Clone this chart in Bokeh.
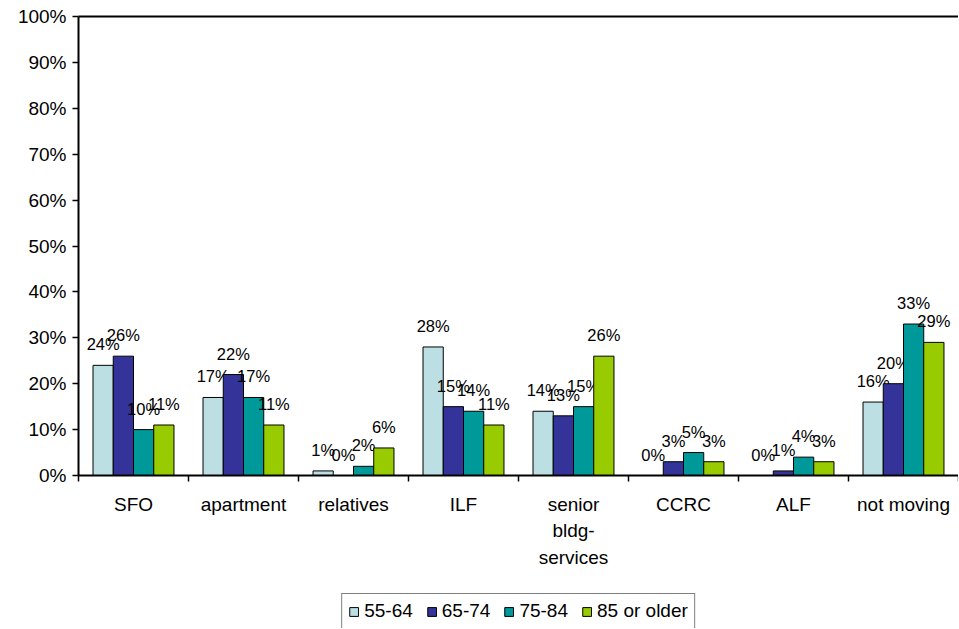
from bokeh.plotting import figure
from bokeh.layouts import column
from bokeh.models import (ColumnDataSource, Range1d, FixedTicker, LinearAxis,
                          PrintfTickFormatter, Legend, LegendItem)
from bokeh.core.properties import value
from bokeh.embed import file_html
from bokeh.resources import INLINE

categories = ["SFO", "apartment", "relatives", "ILF", "senior\nbldg-\nservices",
              "CCRC", "ALF", "not moving"]
series_names = ["55-64", "65-74", "75-84", "85 or older"]
s_55_64 = [24, 17, 1, 28, 14, 0, 0, 16]
s_65_74 = [26, 22, 0, 15, 13, 3, 1, 20]
s_75_84 = [10, 17, 2, 14, 15, 5, 4, 33]
s_85_up = [11, 11, 6, 11, 26, 3, 3, 29]
series_values = [s_55_64, s_65_74, s_75_84, s_85_up]
colors = ["#BBDFE3", "#333399", "#009999", "#99CC00"]
y_ticks = [0, 10, 20, 30, 40, 50, 60, 70, 80, 90, 100]

FONT = "Liberation Sans"
n = len(categories)
bar_w = 0.184

p = figure(width=958, height=593, output_backend="svg", toolbar_location=None,
           x_range=Range1d(0, n), y_range=Range1d(0, 100),
           min_border_left=78, min_border_top=16, min_border_right=0,
           min_border_bottom=118)
p.xgrid.visible = False
p.ygrid.visible = False
p.outline_line_color = None
p.background_fill_color = "white"
p.border_fill_color = "white"

# legend strip below the chart (its bars sit far outside its visible range)
lf = figure(width=958, height=35, output_backend="svg", toolbar_location=None,
            x_range=Range1d(0, n), y_range=Range1d(5000, 5001),
            min_border_left=78, min_border_right=0, min_border_top=0,
            min_border_bottom=0)
lf.axis.visible = False
lf.xgrid.visible = False
lf.ygrid.visible = False
lf.outline_line_color = None

items = []
for j, (name, vals, col) in enumerate(zip(series_names, series_values, colors)):
    xs = [i + 0.5 + (j - 1.5) * bar_w for i in range(n)]
    src = ColumnDataSource(dict(x=xs, top=vals, label=[f"{v}%" for v in vals]))
    p.vbar(x="x", top="top", width=bar_w, bottom=0, source=src,
           fill_color=col, line_color="black", line_width=1)
    p.text(x="x", y="top", text="label", source=src, text_align="center",
           text_baseline="alphabetic", y_offset=-21, text_font=value(FONT),
           text_font_size="16.5px", text_color="black")
    r = lf.vbar(x="x", top="top", width=bar_w, bottom=0, source=src,
                fill_color=col, line_color="black", line_width=1)
    items.append(LegendItem(label=name, renderers=[r]))

# y axis
yax = p.yaxis[0]
yax.ticker = FixedTicker(ticks=y_ticks)
yax.formatter = PrintfTickFormatter(format="%d%%")
yax.major_label_text_font = FONT
yax.major_label_text_font_size = "19px"
yax.major_label_text_color = "black"
yax.major_tick_in = 0
yax.major_tick_out = 6
yax.minor_tick_line_color = None
yax.axis_line_color = "black"
yax.axis_line_width = 2
yax.major_tick_line_color = "black"
yax.major_tick_line_width = 1.5
yax.major_label_standoff = 6

# x axis
xax = p.xaxis[0]
xax.ticker = FixedTicker(ticks=[i + 0.5 for i in range(n)],
                         minor_ticks=list(range(n + 1)))
xax.major_label_overrides = {i + 0.5: c for i, c in enumerate(categories)}
xax.major_label_text_font = FONT
xax.major_label_text_font_size = "19px"
xax.major_label_text_color = "black"
xax.major_label_text_line_height = 1.28
xax.major_tick_line_color = None
xax.major_tick_in = 0
xax.major_tick_out = 5
xax.minor_tick_in = 0
xax.minor_tick_out = 6
xax.minor_tick_line_color = "black"
xax.minor_tick_line_width = 1.5
xax.axis_line_color = "black"
xax.axis_line_width = 2
xax.major_label_standoff = 12

# top border line
top = LinearAxis(ticker=FixedTicker(ticks=[]), major_label_text_font_size="0px",
                 major_tick_line_color=None, minor_tick_line_color=None,
                 axis_line_color="black", axis_line_width=2)
p.add_layout(top, "above")

legend = Legend(items=items, orientation="horizontal", location="top",
                label_text_font=FONT, label_text_font_size="19px",
                label_text_color="black",
                glyph_width=11, glyph_height=11, label_standoff=5, spacing=13,
                padding=6, margin=0, border_line_color="black",
                border_line_width=1.5, background_fill_color="white",
                background_fill_alpha=1.0)
lf.add_layout(legend, "center")

open("out.html", "w").write(file_html(column(p, lf), INLINE))
